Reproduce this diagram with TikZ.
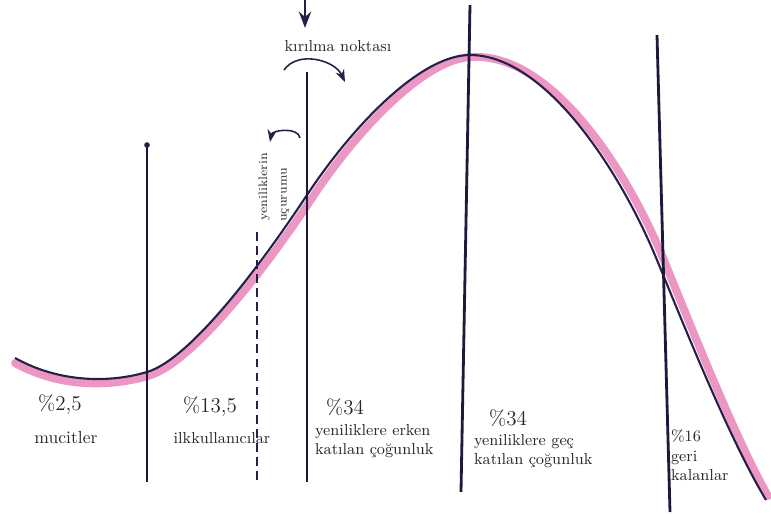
\documentclass[tikz,border=0pt]{standalone}
\usetikzlibrary{arrows.meta}
\definecolor{ink}{RGB}{38,32,72}
\definecolor{rosa}{RGB}{236,150,196}
\tikzset{
  divider/.style={ink!80!black,line width=1.6pt},
  pct/.style={font=\large},
  grp/.style={font=\small,align=left,inner sep=1pt}
}
\begin{document}
\begin{tikzpicture}[x=0.02cm,y=-0.02cm,>=Stealth,every node/.style={text=black!85}]
  \useasboundingbox (0,0) rectangle (771,514);
  % pink band under the curve
  \draw[rosa,line width=4.5pt,line cap=round]
    (15,363) .. controls (60,388) and (110,387) .. (148,376)
    .. controls (193,363) and (267,266) .. (312,198)
    .. controls (357,130) and (425,58) .. (472,57)
    .. controls (551,53) and (626,168) .. (663,258)
    .. controls (693,331) and (736,440) .. (768,496);
  % the curve
  \draw[ink,line width=1.2pt]
    (15,358) .. controls (60,383) and (110,383) .. (147,372)
    .. controls (191,359) and (262,263) .. (307,195)
    .. controls (352,127) and (420,55) .. (470,55)
    .. controls (545,55) and (620,170) .. (657,260)
    .. controls (687,333) and (730,440) .. (766,500);
  % dividers
  \coordinate (d1a) at (147,145); \coordinate (d1b) at (147,482);
  \coordinate (d2a) at (257,232); \coordinate (d2b) at (257,482);
  \coordinate (d3a) at (307,72);  \coordinate (d3b) at (307,482);
  \coordinate (d4a) at (470,5);   \coordinate (d4b) at (461,492);
  \coordinate (d5a) at (657,35);  \coordinate (d5b) at (670,512);
  \fill[ink] (d1a) circle (1.6pt);
  \draw[divider] (d1a) -- (d1b);
  \draw[ink,line width=0.8pt,dash pattern=on 5pt off 3pt] (d2a) -- (d2b);
  \draw[divider] (d3a) -- (d3b);
  \draw[divider] (d4a) -- (d4b);
  \draw[divider] (d5a) -- (d5b);
  % tipping point
  \node[font=\small] (kirilma) at (338,46) {kırılma noktası};
  \coordinate (ktop) at (305,0);
  \coordinate (ktip) at (305,28);
  \draw[ink,line width=1.4pt,->] (ktop) -- (ktip);
  \coordinate (ka) at (284,70);
  \coordinate (kb) at (345,82);
  \draw[ink,line width=0.9pt,->] (ka) to[out=55,in=115] (kb);
  % chasm
  \coordinate (ca) at (270,142);
  \coordinate (cb) at (300,138);
  \draw[ink,line width=0.9pt,<-] (ca) to[out=80,in=100] (cb);
  \node[rotate=90,font=\scriptsize,inner sep=0pt] (uc1) at (264,187) {yeniliklerin};
  \node[rotate=90,font=\scriptsize,inner sep=0pt] (uc2) at (285,195) {uçurumu};
  % groups
  \node[pct] (p1) at (60,405) {\%2,5};
  \node[grp,font=\normalsize] (g1) at (66,437) {mucitler};
  \node[pct] (p2) at (210,407) {\%13,5};
  \node[grp] (g2) at (222,438) {ilkkullanıcılar};
  \node[pct] (p3) at (345,407) {\%34};
  \node[grp,anchor=north west] (g3) at (313,422) {yeniliklere erken\\katılan çoğunluk};
  \node[pct] (p4) at (508,418) {\%34};
  \node[grp,anchor=north west] (g4) at (472,432) {yeniliklere geç\\katılan çoğunluk};
  \node[grp,anchor=north west,font=\small] (g5) at (669,428) {\%16\\geri\\kalanlar};
\end{tikzpicture}
\end{document}
